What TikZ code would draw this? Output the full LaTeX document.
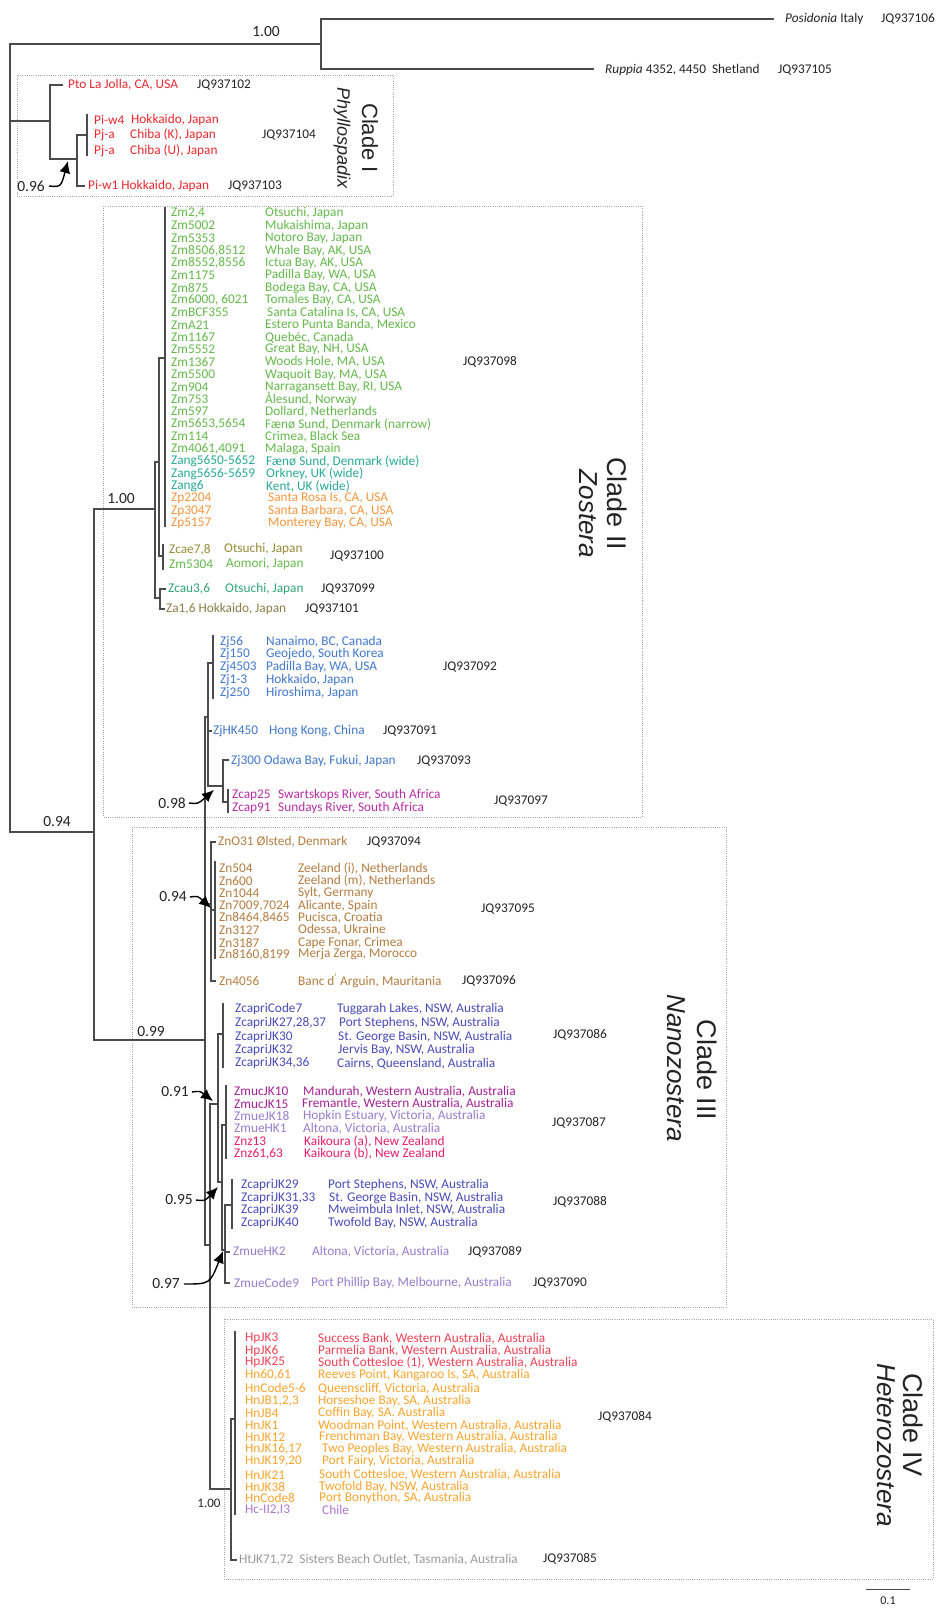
\documentclass[tikz,border=0pt]{standalone}
\usepackage{fontspec}
\setmainfont{Carlito}
\newfontfamily\arialf{Liberation Sans}
\usetikzlibrary{arrows.meta}
\definecolor{cBr}{RGB}{75,75,75}
\definecolor{cBox}{RGB}{165,165,165}
\definecolor{cJQ}{RGB}{35,35,35}
\definecolor{cPhy}{RGB}{233,40,45}
\definecolor{cZm}{RGB}{100,185,75}
\definecolor{cZang}{RGB}{40,170,150}
\definecolor{cZp}{RGB}{245,150,60}
\definecolor{cOlive}{RGB}{150,140,55}
\definecolor{cZa}{RGB}{140,125,70}
\definecolor{cZcau}{RGB}{50,165,120}
\definecolor{cZj}{RGB}{65,120,205}
\definecolor{cZcap}{RGB}{185,45,165}
\definecolor{cZn}{RGB}{180,125,65}
\definecolor{cZcapri}{RGB}{75,75,185}
\definecolor{cZmuc}{RGB}{165,35,150}
\definecolor{cZmue}{RGB}{150,125,205}
\definecolor{cZnz}{RGB}{230,30,110}
\definecolor{cHp}{RGB}{240,65,85}
\definecolor{cHn}{RGB}{250,165,45}
\definecolor{cHc}{RGB}{175,120,205}
\definecolor{cHt}{RGB}{155,155,155}
\newcommand\tipline[7]{\node[tip,text=#7] (#1a) at (#2,#4) {#3}; \node[tip,text=#7] (#1b) at (#5,#4) {#6};}
\begin{document}
\begin{tikzpicture}[x=1pt,y=-1pt,
  br/.style={draw=cBr,line width=1.1pt,line cap=rect},
  cbox/.style={draw=cBox,line width=0.7pt,dash pattern=on 0.8pt off 1.4pt},
  tip/.style={anchor=west,inner sep=0pt,font=\fontsize{13.3}{14}\selectfont},
  jq/.style={tip,text=cJQ},
  supv/.style={inner sep=0pt,font=\fontsize{15.5}{16}\selectfont,text=cJQ},
  arr/.style={draw=black,line width=1.4pt,-{Latex[length=12pt,width=11pt]}},
  cladelab/.style={inner sep=0pt,rotate=-90,font=\arialf\fontsize{27}{28}\selectfont,text=cJQ},
  genuslab/.style={inner sep=0pt,rotate=-90,font=\arialf\itshape\fontsize{26}{27}\selectfont,text=cJQ}]
\useasboundingbox (0,0) rectangle (937,1612);
\fill[white] (0,0) rectangle (937,1612);

% ---------- boxes
\draw[cbox] (17,75) rectangle (393,196);
\draw[cbox] (103,206) rectangle (642,817);
\draw[cbox] (132,827) rectangle (726,1307);
\draw[cbox] (224,1319) rectangle (933,1579);

% ---------- clade labels
\node[cladelab] (cl1) at (370,138) {\fontsize{22}{23}\selectfont Clade I};
\node[genuslab] (g1) at (342,138) {\fontsize{18}{19}\selectfont Phyllospadix};
\node[cladelab] (cl2) at (617,504) {Clade II};
\node[genuslab] (g2) at (588,514) {Zostera};
\node[cladelab] (cl3) at (707,1070) {Clade III};
\node[genuslab] (g3) at (676,1068) {Nanozostera};
\node[cladelab] (cl4) at (913,1425) {Clade IV};
\node[genuslab] (g4) at (886,1445) {Heterozostera};

% ---------- tree: root and outgroups
\draw[br] (10,44) -- (10,832);
\draw[br] (10,44) -- (321,44);
\draw[br] (321,19) -- (321,69);
\draw[br] (321,19) -- (773,19);
\draw[br] (321,69) -- (593,69);
% clade I
\draw[br] (10,121) -- (50,121);
\draw[br] (50,85) -- (50,159);
\draw[br] (50,85) -- (62,85);
\draw[br] (50,159) -- (77,159);
\draw[br] (77,135) -- (77,186);
\draw[br] (77,135) -- (87,135);
\draw[br] (87,115) -- (87,155);
\draw[br] (77,186) -- (84,186);
% backbone
\draw[br] (10,832) -- (94,832);
\draw[br] (94,509) -- (94,1040);
% clade II
\draw[br] (94,509) -- (155,509);
\draw[br] (155,462) -- (155,598);
\draw[br] (155,462) -- (159,462);
\draw[br] (159,358) -- (159,556);
\draw[br] (159,358) -- (165,358);
\draw[br] (165,208) -- (165,526);
\draw[br] (159,556) -- (163,556);
\draw[br] (163,545) -- (163,569);
\draw[br] (155,598) -- (160,598);
\draw[br] (160,589) -- (160,609);
\draw[br] (160,589) -- (165,589);
\draw[br] (160,609) -- (164,609);
% node A
\draw[br] (94,1040) -- (205,1040);
\draw[br] (205,717) -- (205,1245);
\draw[br] (205,717) -- (208,717);
\draw[br] (208,663) -- (208,786);
\draw[br] (208,663) -- (213,663);
\draw[br] (213,636) -- (213,698);
\draw[br] (208,731) -- (211,731);
\draw[br] (208,786) -- (223,786);
\draw[br] (223,760) -- (223,802);
\draw[br] (223,760) -- (228,760);
\draw[br] (223,802) -- (228,802);
\draw[br] (228,790) -- (228,812);
% Zn
\draw[br] (205,904) -- (211,904);
\draw[br] (211,842) -- (211,981);
\draw[br] (211,842) -- (215,842);
\draw[br] (211,981) -- (215,981);
\draw[br] (211,910) -- (215,910);
\draw[br] (215,862) -- (215,958);
% B and Australian groups
\draw[br] (205,1245) -- (210,1245);
\draw[br] (210,1104) -- (210,1489);
\draw[br] (210,1104) -- (218,1104);
\draw[br] (218,1034) -- (218,1182);
\draw[br] (218,1034) -- (223,1034);
\draw[br] (223,1004) -- (223,1067);
\draw[br] (218,1182) -- (222,1182);
\draw[br] (222,1125) -- (222,1250);
\draw[br] (222,1125) -- (226,1125);
\draw[br] (226,1086) -- (226,1158);
\draw[br] (222,1250) -- (225,1250);
\draw[br] (225,1205) -- (225,1283);
\draw[br] (225,1205) -- (232,1205);
\draw[br] (232,1180) -- (232,1228);
\draw[br] (225,1252) -- (229,1252);
\draw[br] (225,1283) -- (229,1283);
% clade IV
\draw[br] (210,1489) -- (231,1489);
\draw[br] (231,1419) -- (231,1560);
\draw[br] (231,1419) -- (235,1419);
\draw[br] (235,1332) -- (235,1514);
\draw[br] (231,1560) -- (236,1560);

% ---------- support values
\node[supv] (s100a) at (266,32) {1.00};
\node[supv] (s096) at (31,186) {0.96};
\node[supv] (s100b) at (121,499) {1.00};
\node[supv] (s094a) at (57,822) {0.94};
\node[supv] (s098) at (172,803) {0.98};
\node[supv] (s094b) at (173,897) {0.94};
\node[supv] (s099) at (151,1032) {0.99};
\node[supv] (s091) at (175,1092) {0.91};
\node[supv] (s095) at (179,1200) {0.95};
\node[supv] (s097) at (166,1284) {0.97};
\node[supv,font=\fontsize{13}{14}\selectfont] (s100c) at (209,1503) {1.00};

\coordinate (t096) at (68,161);
\coordinate (t098) at (214,790);
\coordinate (t094) at (211,908);
\coordinate (t091) at (213,1101);
\coordinate (t095) at (218,1187);
\coordinate (t097) at (223,1251);
\draw[arr] ([xshift=4pt]s096.east) .. controls +(12,1) .. (t096);
\draw[arr] ([xshift=3pt]s098.east) .. controls +(9,1) .. (t098);
\draw[arr] ([xshift=3pt]s094b.east) .. controls +(8,-1) .. (t094);
\draw[arr] ([xshift=3pt]s091.east) .. controls +(8,-1) .. (t091);
\draw[arr] ([xshift=3pt]s095.east) .. controls +(9,1) .. (t095);
\draw[arr] ([xshift=4pt]s097.east) .. controls +(26,0) .. (t097);

% ---------- outgroups text
\node[tip,text=cJQ] (posi) at (785,19) {\textit{Posidonia} Italy};
\node[jq] (jq106) at (881,19) {JQ937106};
\node[tip,text=cJQ] (rupp) at (605,70) {\textit{Ruppia} 4352, 4450\ \ Shetland};
\node[jq] (jq105) at (778,70) {JQ937105};

% ---------- clade I text
\node[tip,text=cPhy] (pto) at (68,85) {Pto La Jolla, CA, USA};
\node[jq] (jq102) at (197,85) {JQ937102};
\tipline{piw4}{94}{Pi-w4}{120}{131}{Hokkaido, Japan}{cPhy}
\tipline{pjaK}{94}{Pj-a}{135}{130}{Chiba (K), Japan}{cPhy}
\tipline{pjaU}{94}{Pj-a}{151}{130}{Chiba (U), Japan}{cPhy}
\node[jq] (jq104) at (262,135) {JQ937104};
\node[tip,text=cPhy] (piw1) at (88,186) {Pi-w1 Hokkaido, Japan};
\node[jq] (jq103) at (228,186) {JQ937103};

% ---------- clade II text
\tipline{zm01}{171}{Zm2,4}{213.3}{265}{Otsuchi, Japan}{cZm}
\tipline{zm02}{171}{Zm5002}{225.7}{265}{Mukaishima, Japan}{cZm}
\tipline{zm03}{171}{Zm5353}{238.1}{265}{Notoro Bay, Japan}{cZm}
\tipline{zm04}{171}{Zm8506,8512}{250.5}{265}{Whale Bay, AK, USA}{cZm}
\tipline{zm05}{171}{Zm8552,8556}{262.9}{265}{Ictua Bay, AK, USA}{cZm}
\tipline{zm06}{171}{Zm1175}{275.3}{265}{Padilla Bay, WA, USA}{cZm}
\tipline{zm07}{171}{Zm875}{287.7}{265}{Bodega Bay, CA, USA}{cZm}
\tipline{zm08}{171}{Zm6000, 6021}{300.1}{265}{Tomales Bay, CA, USA}{cZm}
\tipline{zm09}{171}{ZmBCF355}{312.5}{267}{Santa Catalina Is, CA, USA}{cZm}
\tipline{zm10}{171}{ZmA21}{324.9}{265}{Estero Punta Banda, Mexico}{cZm}
\tipline{zm11}{171}{Zm1167}{337.3}{265}{Quebéc, Canada}{cZm}
\tipline{zm12}{171}{Zm5552}{349.7}{265}{Great Bay, NH, USA}{cZm}
\tipline{zm13}{171}{Zm1367}{362.1}{265}{Woods Hole, MA, USA}{cZm}
\tipline{zm14}{171}{Zm5500}{374.5}{265}{Waquoit Bay, MA, USA}{cZm}
\tipline{zm15}{171}{Zm904}{386.9}{265}{Narragansett Bay, RI, USA}{cZm}
\tipline{zm16}{171}{Zm753}{399.3}{265}{Ålesund, Norway}{cZm}
\tipline{zm17}{171}{Zm597}{411.7}{265}{Dollard, Netherlands}{cZm}
\tipline{zm18}{171}{Zm5653,5654}{424.1}{265}{Fænø Sund, Denmark (narrow)}{cZm}
\tipline{zm19}{171}{Zm114}{436.5}{265}{Crimea, Black Sea}{cZm}
\tipline{zm20}{171}{Zm4061,4091}{448.9}{265}{Malaga, Spain}{cZm}
\tipline{zg01}{171}{Zang5650-5652}{461.3}{266}{Fænø Sund, Denmark (wide)}{cZang}
\tipline{zg02}{171}{Zang5656-5659}{473.7}{266}{Orkney, UK (wide)}{cZang}
\tipline{zg03}{171}{Zang6}{486.1}{266}{Kent, UK (wide)}{cZang}
\tipline{zp01}{171}{Zp2204}{498.5}{268}{Santa Rosa Is, CA, USA}{cZp}
\tipline{zp02}{171}{Zp3047}{510.9}{268}{Santa Barbara, CA, USA}{cZp}
\tipline{zp03}{171}{Zp5157}{523.3}{268}{Monterey Bay, CA, USA}{cZp}
\node[jq] (jq098) at (463,362) {JQ937098};

\tipline{zcae}{169}{Zcae7,8}{549.3}{224}{Otsuchi, Japan}{cOlive}
\tipline{zm53}{169}{Zm5304}{564}{226}{Aomori, Japan}{cZm}
\node[jq] (jq100) at (330,556) {JQ937100};
\tipline{zcau}{168}{Zcau3,6}{589.3}{225}{Otsuchi, Japan}{cZcau}
\node[jq] (jq099) at (321,589.3) {JQ937099};
\node[tip,text=cZa] (za16) at (166,609) {Za1,6 Hokkaido, Japan};
\node[jq] (jq101) at (305,609) {JQ937101};

\tipline{zj01}{220}{Zj56}{641.7}{266}{Nanaimo, BC, Canada}{cZj}
\tipline{zj02}{220}{Zj150}{654.3}{266}{Geojedo, South Korea}{cZj}
\tipline{zj03}{220}{Zj4503}{666.7}{266}{Padilla Bay, WA, USA}{cZj}
\tipline{zj04}{220}{Zj1-3}{680}{266}{Hokkaido, Japan}{cZj}
\tipline{zj05}{220}{Zj250}{693.3}{266}{Hiroshima, Japan}{cZj}
\node[jq] (jq092) at (443,666.7) {JQ937092};
\tipline{zjhk}{213}{ZjHK450}{730.7}{269}{Hong Kong, China}{cZj}
\node[jq] (jq091) at (383,730.7) {JQ937091};
\node[tip,text=cZj] (zj300) at (231,760.7) {Zj300 Odawa Bay, Fukui, Japan};
\node[jq] (jq093) at (417,760.7) {JQ937093};
\tipline{zcap25}{232}{Zcap25}{795}{278}{Swartskops River, South Africa}{cZcap}
\tipline{zcap91}{232}{Zcap91}{808}{278}{Sundays River, South Africa}{cZcap}
\node[jq] (jq097) at (494,801) {JQ937097};

% ---------- clade III text
\node[tip,text=cZn] (zno31) at (218,842) {ZnO31 Ølsted, Denmark};
\node[jq] (jq094) at (367,842) {JQ937094};
\tipline{zn01}{219}{Zn504}{868.3}{298}{Zeeland (i), Netherlands}{cZn}
\tipline{zn02}{219}{Zn600}{880.7}{298}{Zeeland (m), Netherlands}{cZn}
\tipline{zn03}{219}{Zn1044}{893.3}{298}{Sylt, Germany}{cZn}
\tipline{zn04}{219}{Zn7009,7024}{905.7}{298}{Alicante, Spain}{cZn}
\tipline{zn05}{219}{Zn8464,8465}{917.7}{298}{Pucisca, Croatia}{cZn}
\tipline{zn06}{219}{Zn3127}{930}{298}{Odessa, Ukraine}{cZn}
\tipline{zn07}{219}{Zn3187}{942.7}{298}{Cape Fonar, Crimea}{cZn}
\tipline{zn08}{219}{Zn8160,8199}{954.3}{298}{Merja Zerga, Morocco}{cZn}
\node[jq] (jq095) at (481,909) {JQ937095};
\tipline{zn4056}{219}{Zn4056}{981}{298}{Banc d\textsuperscript{’} Arguin, Mauritania}{cZn}
\node[jq] (jq096) at (462,981) {JQ937096};

\tipline{zc01}{235}{ZcapriCode7}{1009.3}{337}{Tuggarah Lakes, NSW, Australia}{cZcapri}
\tipline{zc02}{235}{ZcapriJK27,28,37}{1023.3}{339}{Port Stephens, NSW, Australia}{cZcapri}
\tipline{zc03}{235}{ZcapriJK30}{1036.7}{338}{St. George Basin, NSW, Australia}{cZcapri}
\tipline{zc04}{235}{ZcapriJK32}{1050}{338}{Jervis Bay, NSW, Australia}{cZcapri}
\tipline{zc05}{235}{ZcapriJK34,36}{1063.3}{337}{Cairns, Queensland, Australia}{cZcapri}
\node[jq] (jq086) at (553,1035) {JQ937086};

\tipline{zu01}{234}{ZmucJK10}{1091.7}{303}{Mandurah, Western Australia, Australia}{cZmuc}
\tipline{zu02}{234}{ZmucJK15}{1104}{302}{Fremantle, Western Australia, Australia}{cZmuc}
\tipline{zu03}{234}{ZmueJK18}{1116}{303}{Hopkin Estuary, Victoria, Australia}{cZmue}
\tipline{zu04}{234}{ZmueHK1}{1128.7}{303}{Altona, Victoria, Australia}{cZmue}
\tipline{zu05}{234}{Znz13}{1141.7}{304}{Kaikoura (a), New Zealand}{cZnz}
\tipline{zu06}{234}{Znz61,63}{1154}{304}{Kaikoura (b), New Zealand}{cZnz}
\node[jq] (jq087) at (552,1123) {JQ937087};

\tipline{zd01}{241}{ZcapriJK29}{1185}{328}{Port Stephens, NSW, Australia}{cZcapri}
\tipline{zd02}{241}{ZcapriJK31,33}{1197.7}{329}{St. George Basin, NSW, Australia}{cZcapri}
\tipline{zd03}{241}{ZcapriJK39}{1210}{328}{Mweimbula Inlet, NSW, Australia}{cZcapri}
\tipline{zd04}{241}{ZcapriJK40}{1222.7}{328}{Twofold Bay, NSW, Australia}{cZcapri}
\node[jq] (jq088) at (553,1202) {JQ937088};

\tipline{zmhk2}{233}{ZmueHK2}{1251.7}{312}{Altona, Victoria, Australia}{cZmue}
\node[jq] (jq089) at (468,1251.7) {JQ937089};
\tipline{zmc9}{234}{ZmueCode9}{1283.3}{311}{Port Phillip Bay, Melbourne, Australia}{cZmue}
\node[jq] (jq090) at (533,1283.3) {JQ937090};

% ---------- clade IV text
\tipline{h01}{245}{HpJK3}{1338.3}{318}{Success Bank, Western Australia, Australia}{cHp}
\tipline{h02}{245}{HpJK6}{1350.7}{318}{Parmelia Bank, Western Australia, Australia}{cHp}
\tipline{h03}{245}{HpJK25}{1362.7}{318}{South Cottesloe (1), Western Australia, Australia}{cHp}
\tipline{h04}{245}{Hn60,61}{1375}{318}{Reeves Point, Kangaroo Is, SA, Australia}{cHn}
\tipline{h05}{245}{HnCode5-6}{1388.3}{318}{Queenscliff, Victoria, Australia}{cHn}
\tipline{h06}{245}{HnJB1,2,3}{1400.7}{318}{Horseshoe Bay, SA, Australia}{cHn}
\tipline{h07}{245}{HnJB4}{1413.3}{318}{Coffin Bay, SA. Australia}{cHn}
\tipline{h08}{245}{HnJK1}{1425.7}{318}{Woodman Point, Western Australia, Australia}{cHn}
\tipline{h09}{245}{HnJK12}{1437.3}{319}{Frenchman Bay, Western Australia, Australia}{cHn}
\tipline{h10}{245}{HnJK16,17}{1449}{322}{Two Peoples Bay, Western Australia, Australia}{cHn}
\tipline{h11}{245}{HnJK19,20}{1461}{322}{Port Fairy, Victoria, Australia}{cHn}
\tipline{h12}{245}{HnJK21}{1475}{319}{South Cottesloe, Western Australia, Australia}{cHn}
\tipline{h13}{245}{HnJK38}{1486.7}{319}{Twofold Bay, NSW, Australia}{cHn}
\tipline{h14}{245}{HnCode8}{1498.3}{319}{Port Bonython, SA, Australia}{cHn}
\tipline{h15}{245}{Hc-II2,I3}{1510}{322}{Chile}{cHc}
\node[jq] (jq084) at (598,1417) {JQ937084};
\node[tip,text=cHt] (htjk) at (239,1559.3) {HtJK71,72\ \ Sisters Beach Outlet, Tasmania, Australia};
\node[jq] (jq085) at (543,1559.3) {JQ937085};

% ---------- scale bar
\coordinate (sbL) at (866,1589);
\coordinate (sbR) at (910,1589);
\draw[br,line width=0.9pt] (sbL) -- (sbR);
\node[inner sep=0pt,font=\fontsize{12}{13}\selectfont,text=cJQ] (sblab) at (888,1601) {0.1};
\end{tikzpicture}
\end{document}
